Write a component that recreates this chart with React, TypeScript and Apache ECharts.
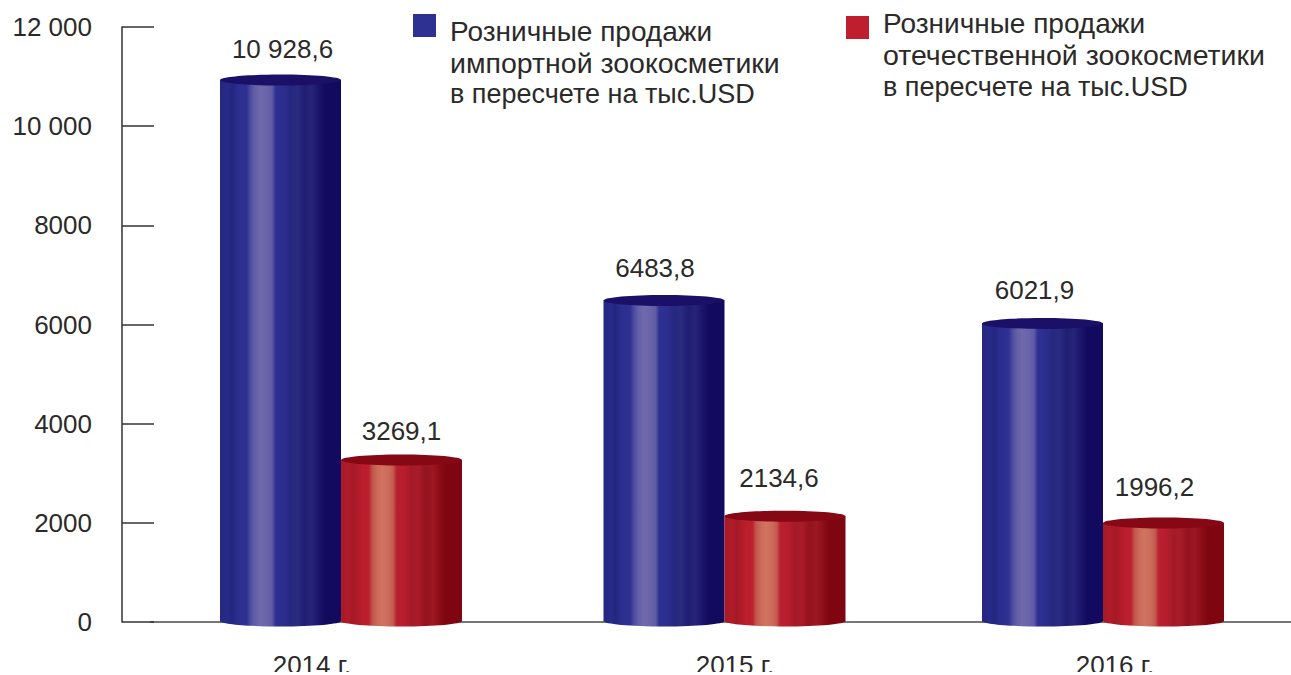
import React, { useEffect, useRef } from "react";
import * as echarts from "echarts";

const categories = ["2014 г.", "2015 г.", "2016 г."];
const importLines = ["Розничные продажи", "импортной зоокосметики", "в пересчете на тыс.USD"];
const domesticLines = ["Розничные продажи", "отечественной зоокосметики", "в пересчете на тыс.USD"];
const importValues = [10928.6, 6483.8, 6021.9];
const domesticValues = [3269.1, 2134.6, 1996.2];
const importLabels = ["10 928,6", "6483,8", "6021,9"];
const domesticLabels = ["3269,1", "2134,6", "1996,2"];
const yTicks: Record<number, string> = { 0: "0", 2000: "2000", 4000: "4000", 6000: "6000", 8000: "8000", 10000: "10 000", 12000: "12 000" };

const FONT = "'Liberation Sans', Arial, sans-serif";
const TEXT = "#2b2a29";
const BLUE = "#2e3192";
const RED = "#be1e2d";
const BAR_W = 121;
const RY = 5.5;
const GROUP_SHIFT = [0, 2.5, 0];
const IMPORT_LABEL_OFFSET = [[2, 31], [-9, 33], [-8, 33]];
const DOMESTIC_LABEL_OFFSET = [[0, 29], [-6, 38], [-9, 36]];

const blueStops = [
  [0, "#25287f"], [0.06, "#272a88"], [0.1, "#24277f"], [0.16, "#2c2f90"], [0.22, "#2e3192"],
  [0.25, "#4c4a9e"], [0.29, "#6460a8"], [0.33, "#6f69ac"], [0.38, "#6a65aa"], [0.43, "#5f5ba5"],
  [0.46, "#2e3192"], [0.53, "#2b2e8d"], [0.58, "#26287f"], [0.64, "#2a2a82"], [0.7, "#1f1e72"],
  [0.76, "#252478"], [0.82, "#1a156a"], [0.87, "#120a5f"], [1, "#120a5f"],
];
const redStops = [
  [0, "#a61a27"], [0.06, "#b01b29"], [0.1, "#a51926"], [0.18, "#bb1e2c"], [0.23, "#be1e2d"],
  [0.26, "#c0564a"], [0.3, "#cb6a5a"], [0.34, "#d0735f"], [0.39, "#cc6c5b"], [0.43, "#c35c50"],
  [0.46, "#bb2030"], [0.53, "#b51d2c"], [0.58, "#a31a27"], [0.64, "#a81c29"], [0.7, "#94121e"],
  [0.76, "#9c1722"], [0.82, "#8a0c17"], [0.87, "#7f0610"], [1, "#7f0610"],
];

const gradient = (stops: (number | string)[][]) =>
  new echarts.graphic.LinearGradient(0, 0, 1, 0, stops.map(([o, c]) => ({ offset: o as number, color: c as string })));

function cylinder(side: -1 | 1, stops: (number | string)[][], topColor: string, labels: string[], offsets: number[][]) {
  return (params: any, api: any) => {
    const i = params.dataIndex;
    const [cx0, yTop] = api.coord([api.value(0), api.value(1)]);
    const [, yBase] = api.coord([api.value(0), 0]);
    const cx = cx0 + GROUP_SHIFT[i];
    const left = side < 0 ? cx - BAR_W : cx;
    const mid = left + BAR_W / 2;
    const fill = gradient(stops);
    const [dx, dy] = offsets[i];
    return {
      type: "group",
      children: [
        { type: "ellipse", shape: { cx: mid, cy: yBase - 1, rx: BAR_W / 2, ry: RY }, style: { fill } },
        { type: "rect", shape: { x: left, y: yTop, width: BAR_W, height: yBase - 1 - yTop }, style: { fill } },
        { type: "ellipse", shape: { cx: mid, cy: yTop, rx: BAR_W / 2, ry: RY }, style: { fill: topColor } },
        {
          type: "text",
          style: {
            text: labels[i], x: mid + dx, y: yTop - dy, align: "center", verticalAlign: "middle",
            font: `26px ${FONT}`, fill: TEXT,
          },
        },
      ],
    };
  };
}

const legendText = (lines: string[], x: number, y: number, lineHeight: number) => ({
  type: "text", x, y,
  style: {
    text: `{a|${lines[0]}}\n{b|${lines[1]}}\n{c|${lines[2]}}`,
    font: `28px ${FONT}`, fill: TEXT, align: "left", verticalAlign: "top",
    rich: {
      a: { fontFamily: FONT, fontSize: 28, lineHeight, fill: TEXT },
      b: { fontFamily: FONT, fontSize: 28.5, lineHeight, fill: TEXT },
      c: { fontFamily: FONT, fontSize: 27, lineHeight, fill: TEXT },
    },
  },
});
const legendSwatch = (x: number, y: number, fill: string) => ({
  type: "rect", shape: { x, y, width: 23, height: 23 }, style: { fill },
});

export default function App() {
  const ref = useRef<HTMLDivElement>(null);
  useEffect(() => {
    const chart = echarts.init(ref.current!, null, { renderer: "svg" });
    chart.setOption({
      animation: false,
      backgroundColor: "#ffffff",
      grid: { left: 150.5, top: 27, width: 1143, height: 595, outerBoundsMode: "none" },
      graphic: [
        legendSwatch(413, 14, BLUE),
        legendText(importLines, 450, 16, 31),
        legendSwatch(846, 16, RED),
        legendText(domesticLines, 883, 7, 32),
      ],
      xAxis: {
        type: "category",
        data: categories,
        axisLine: { lineStyle: { color: "#4a4a4a", width: 1.5 } },
        axisTick: { show: false },
        axisLabel: {
          margin: 30,
          formatter: (v: string, i: number) => `{l${i}|${v}}`,
          color: TEXT,
          fontFamily: FONT,
          fontSize: 26,
          hideOverlap: false,
          rich: {
            l0: { padding: [0, 58, 0, 0], fontFamily: FONT, fontSize: 26, color: TEXT },
            l1: { padding: [0, 0, 0, 26], fontFamily: FONT, fontSize: 26, color: TEXT },
            l2: { padding: [0, 0, 0, 24], fontFamily: FONT, fontSize: 26, color: TEXT },
          },
        },
      },
      yAxis: {
        type: "value",
        min: 0,
        max: 12000,
        interval: 2000,
        offset: 28.5,
        splitLine: { show: false },
        axisLine: { show: true, lineStyle: { color: "#333333", width: 1.5 } },
        axisTick: { show: true, inside: true, length: 32, lineStyle: { color: "#333333", width: 1.5 } },
        axisLabel: {
          margin: 30,
          color: TEXT,
          fontFamily: FONT,
          fontSize: 26,
          formatter: (v: number) => yTicks[v],
        },
      },
      series: [
        {
          name: importLines.join(" "),
          type: "custom",
          itemStyle: { color: BLUE },
          encode: { x: 0, y: 1 },
          data: importValues.map((v, i) => [i, v]),
          renderItem: cylinder(-1, blueStops, "#1a1068", importLabels, IMPORT_LABEL_OFFSET),
        },
        {
          name: domesticLines.join(" "),
          type: "custom",
          itemStyle: { color: RED },
          encode: { x: 0, y: 1 },
          data: domesticValues.map((v, i) => [i, v]),
          renderItem: cylinder(1, redStops, "#860814", domesticLabels, DOMESTIC_LABEL_OFFSET),
        },
      ],
    });
    return () => chart.dispose();
  }, []);
  return <div ref={ref} style={{ position: "fixed", left: 0, top: 0, width: 1291, height: 672, overflow: "hidden" }} />;
}
